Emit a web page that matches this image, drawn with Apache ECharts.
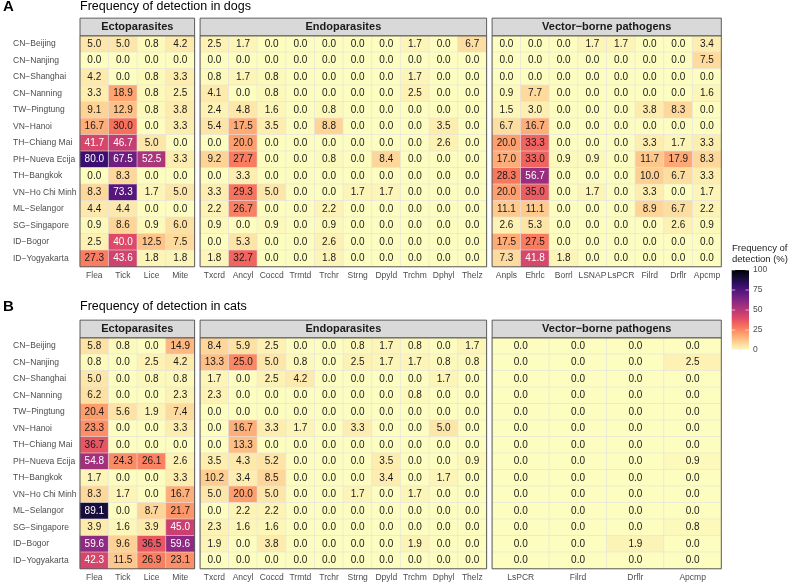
<!DOCTYPE html>
<html>
<head>
<meta charset="utf-8">
<script src="https://cdn.jsdelivr.net/npm/echarts@6/dist/echarts.min.js"></script>
<style>
html,body{margin:0;padding:0;background:#fff;}
#chart{width:792px;height:582px;}
</style>
</head>
<body>
<div id="chart"></div>
<script>
// ---------------- DATA ----------------
const regions = ['CN\u2212Beijing','CN\u2212Nanjing','CN\u2212Shanghai','CN\u2212Nanning','TW\u2212Pingtung','VN\u2212Hanoi','TH\u2212Chiang Mai','PH\u2212Nueva Ecija','TH\u2212Bangkok','VN\u2212Ho Chi Minh','ML\u2212Selangor','SG\u2212Singapore','ID\u2212Bogor','ID\u2212Yogyakarta'];
const facetNames = ['Ectoparasites','Endoparasites','Vector\u2212borne pathogens'];
const ectoCols = ['Flea','Tick','Lice','Mite'];
const endoCols = ['Txcrd','Ancyl','Coccd','Trmtd','Trchr','Strng','Dpyld','Trchm','Dphyl','Thelz'];
const vbpDogCols = ['Anpls','Ehrlc','Borrl','LSNAP','LsPCR','Filrd','Drflr','Apcmp'];
const vbpCatCols = ['LsPCR','Filrd','Drflr','Apcmp'];
const legendTicks = [0,25,50,75,100];

const dogEcto = [
 [5.0,5.0,0.8,4.2],[0.0,0.0,0.0,0.0],[4.2,0.0,0.8,3.3],[3.3,18.9,0.8,2.5],[9.1,12.9,0.8,3.8],
 [16.7,30.0,0.0,3.3],[41.7,46.7,5.0,0.0],[80.0,67.5,52.5,3.3],[0.0,8.3,0.0,0.0],[8.3,73.3,1.7,5.0],
 [4.4,4.4,0.0,0.0],[0.9,8.6,0.9,6.0],[2.5,40.0,12.5,7.5],[27.3,43.6,1.8,1.8]
];
const dogEndo = [
 [2.5,1.7,0.0,0.0,0.0,0.0,0.0,1.7,0.0,6.7],
 [0.0,0.0,0.0,0.0,0.0,0.0,0.0,0.0,0.0,0.0],
 [0.8,1.7,0.8,0.0,0.0,0.0,0.0,1.7,0.0,0.0],
 [4.1,0.0,0.8,0.0,0.0,0.0,0.0,2.5,0.0,0.0],
 [2.4,4.8,1.6,0.0,0.8,0.0,0.0,0.0,0.0,0.0],
 [5.4,17.5,3.5,0.0,8.8,0.0,0.0,0.0,3.5,0.0],
 [0.0,20.0,0.0,0.0,0.0,0.0,0.0,0.0,2.6,0.0],
 [9.2,27.7,0.0,0.0,0.8,0.0,8.4,0.0,0.0,0.0],
 [0.0,3.3,0.0,0.0,0.0,0.0,0.0,0.0,0.0,0.0],
 [3.3,29.3,5.0,0.0,0.0,1.7,1.7,0.0,0.0,0.0],
 [2.2,26.7,0.0,0.0,2.2,0.0,0.0,0.0,0.0,0.0],
 [0.9,0.0,0.9,0.0,0.9,0.0,0.0,0.0,0.0,0.0],
 [0.0,5.3,0.0,0.0,2.6,0.0,0.0,0.0,0.0,0.0],
 [1.8,32.7,0.0,0.0,1.8,0.0,0.0,0.0,0.0,0.0]
];
const dogVbp = [
 [0.0,0.0,0.0,1.7,1.7,0.0,0.0,3.4],
 [0.0,0.0,0.0,0.0,0.0,0.0,0.0,7.5],
 [0.0,0.0,0.0,0.0,0.0,0.0,0.0,0.0],
 [0.9,7.7,0.0,0.0,0.0,0.0,0.0,1.6],
 [1.5,3.0,0.0,0.0,0.0,3.8,8.3,0.0],
 [6.7,16.7,0.0,0.0,0.0,0.0,0.0,0.0],
 [20.0,33.3,0.0,0.0,0.0,3.3,1.7,3.3],
 [17.0,33.0,0.9,0.9,0.0,11.7,17.9,8.3],
 [28.3,56.7,0.0,0.0,0.0,10.0,6.7,3.3],
 [20.0,35.0,0.0,1.7,0.0,3.3,0.0,1.7],
 [11.1,11.1,0.0,0.0,0.0,8.9,6.7,2.2],
 [2.6,5.3,0.0,0.0,0.0,0.0,2.6,0.9],
 [17.5,27.5,0.0,0.0,0.0,0.0,0.0,0.0],
 [7.3,41.8,1.8,0.0,0.0,0.0,0.0,0.0]
];
const catEcto = [
 [5.8,0.8,0.0,14.9],[0.8,0.0,2.5,4.2],[5.0,0.0,0.8,0.8],[6.2,0.0,0.0,2.3],[20.4,5.6,1.9,7.4],
 [23.3,0.0,0.0,3.3],[36.7,0.0,0.0,0.0],[54.8,24.3,26.1,2.6],[1.7,0.0,0.0,3.3],[8.3,1.7,0.0,16.7],
 [89.1,0.0,8.7,21.7],[3.9,1.6,3.9,45.0],[59.6,9.6,36.5,59.6],[42.3,11.5,26.9,23.1]
];
const catEndo = [
 [8.4,5.9,2.5,0.0,0.0,0.8,1.7,0.8,0.0,1.7],
 [13.3,25.0,5.0,0.8,0.0,2.5,1.7,1.7,0.8,0.8],
 [1.7,0.0,2.5,4.2,0.0,0.0,0.0,0.0,1.7,0.0],
 [2.3,0.0,0.0,0.0,0.0,0.0,0.0,0.8,0.0,0.0],
 [0.0,0.0,0.0,0.0,0.0,0.0,0.0,0.0,0.0,0.0],
 [0.0,16.7,3.3,1.7,0.0,3.3,0.0,0.0,5.0,0.0],
 [0.0,13.3,0.0,0.0,0.0,0.0,0.0,0.0,0.0,0.0],
 [3.5,4.3,5.2,0.0,0.0,0.0,3.5,0.0,0.0,0.9],
 [10.2,3.4,8.5,0.0,0.0,0.0,3.4,0.0,1.7,0.0],
 [5.0,20.0,5.0,0.0,0.0,1.7,0.0,1.7,0.0,0.0],
 [0.0,2.2,2.2,0.0,0.0,0.0,0.0,0.0,0.0,0.0],
 [2.3,1.6,1.6,0.0,0.0,0.0,0.0,0.0,0.0,0.0],
 [1.9,0.0,3.8,0.0,0.0,0.0,0.0,1.9,0.0,0.0],
 [0.0,0.0,0.0,0.0,0.0,0.0,0.0,0.0,0.0,0.0]
];
const catVbp = [
 [0.0,0.0,0.0,0.0],[0.0,0.0,0.0,2.5],[0.0,0.0,0.0,0.0],[0.0,0.0,0.0,0.0],[0.0,0.0,0.0,0.0],
 [0.0,0.0,0.0,0.0],[0.0,0.0,0.0,0.0],[0.0,0.0,0.0,0.9],[0.0,0.0,0.0,0.0],[0.0,0.0,0.0,0.0],
 [0.0,0.0,0.0,0.0],[0.0,0.0,0.0,0.8],[0.0,0.0,1.9,0.0],[0.0,0.0,0.0,0.0]
];

// magma (reversed: 0 -> light, 100 -> dark)
const magmaRev = ['#FCFDBF','#FECF92','#FE9F6D','#F7705C','#DE4968','#B73779','#8C2981','#641A80','#3B0F70','#140E36','#000004'];

// ---------------- LAYOUT ----------------
const FONT = '"Liberation Sans", Arial, Helvetica, sans-serif';
const COLW = 28.65, GAP = 5.5, X0 = 80;
const ROWH = 16.5, PH = ROWH * regions.length;
const STRIPH = 17.6;
const facetCols = [4, 10, 8];
const panels = [
  {top: 35.75, tag: 'A', title: 'Frequency of detection in dogs', titleY: 7,
   cols: [ectoCols, endoCols, vbpDogCols], data: [dogEcto, dogEndo, dogVbp]},
  {top: 337.75, tag: 'B', title: 'Frequency of detection in cats', titleY: 307,
   cols: [ectoCols, endoCols, vbpCatCols], data: [catEcto, catEndo, catVbp]}
];

const grids = [], xAxes = [], yAxes = [], series = [], graphics = [];
let gi = 0;
panels.forEach((p) => {
  graphics.push({type:'text', left: 3, top: p.titleY - 8, z: 100,
    style:{text: p.tag, font: 'bold 15px ' + FONT, fill:'#000'}});
  graphics.push({type:'text', left: 80, top: p.titleY - 7, z: 100,
    style:{text: p.title, font: '12.5px ' + FONT, fill:'#000'}});
  let left = X0;
  for (let f = 0; f < 3; f++) {
    const w = facetCols[f] * COLW;
    grids.push({left: left, top: p.top, width: w, height: PH, containLabel: false});
    xAxes.push({type:'category', gridIndex: gi, data: p.cols[f], position:'bottom',
      axisLine:{show:false}, axisTick:{show:false}, splitLine:{show:false},
      axisLabel:{interval:0, fontSize: 8.5, color:'#4D4D4D', margin: 4, fontFamily: FONT}});
    yAxes.push({type:'category', gridIndex: gi, data: regions, inverse: true,
      axisLine:{show:false}, axisTick:{show:false}, splitLine:{show:false},
      axisLabel:{show: f === 0, interval:0, fontSize: 8.5, color:'#4D4D4D', margin: left - 13,
        align:'left', fontFamily: FONT}});
    const d = [];
    p.data[f].forEach((row, i) => row.forEach((v, j) => {
      d.push({value:[j, i, v], label:{color: v >= 38 ? '#FFFFFF' : '#1A1A1A'}});
    }));
    series.push({type:'heatmap', xAxisIndex: gi, yAxisIndex: gi, data: d,
      itemStyle:{borderColor:'#E2E2E2', borderWidth: 0.6},
      label:{show:true, fontSize: 10, fontFamily: FONT, formatter: (q) => q.value[2].toFixed(1)},
      emphasis:{disabled:true}});
    // panel border
    graphics.push({type:'rect', z: 100, silent: true,
      shape:{x: left, y: p.top, width: w, height: PH},
      style:{fill:'none', stroke:'#4D4D4D', lineWidth: 0.9}});
    // strip
    graphics.push({type:'rect', z: 100, silent: true,
      shape:{x: left, y: p.top - STRIPH, width: w, height: STRIPH},
      style:{fill:'#D9D9D9', stroke:'#4D4D4D', lineWidth: 0.9}});
    graphics.push({type:'text', z: 101, silent: true,
      x: left + w / 2, y: p.top - STRIPH / 2,
      style:{text: facetNames[f], font:'bold 11px ' + FONT, fill:'#1A1A1A',
        textAlign:'center', textVerticalAlign:'middle'}});
    left += w + GAP;
    gi++;
  }
});

// legend (colour bar)
const LBX = 731.7, LBY = 270, LBW = 17.3, LBH = 80;
graphics.push({type:'text', z:100, left: 732, top: 243,
  style:{text:'Frequency of\ndetection (%)', font:'9.5px ' + FONT, fill:'#1A1A1A', lineHeight: 11}});
graphics.push({type:'rect', z:100, silent:true, shape:{x:LBX, y:LBY, width:LBW, height:LBH},
  style:{fill:{type:'linear', x:0, y:1, x2:0, y2:0,
    colorStops: magmaRev.map((c, k) => ({offset: k / (magmaRev.length - 1), color: c}))}}});
legendTicks.forEach((t) => {
  const y = LBY + LBH - t / 100 * LBH;
  graphics.push({type:'line', z:101, silent:true, shape:{x1:LBX, y1:y, x2:LBX + 3.5, y2:y},
    style:{stroke:'rgba(255,255,255,0.8)', lineWidth:0.8}});
  graphics.push({type:'line', z:101, silent:true, shape:{x1:LBX + LBW - 3.5, y1:y, x2:LBX + LBW, y2:y},
    style:{stroke:'rgba(255,255,255,0.8)', lineWidth:0.8}});
  graphics.push({type:'text', z:101, silent:true, x: LBX + LBW + 4, y: y,
    style:{text: String(t), font:'8.5px ' + FONT, fill:'#4D4D4D', textVerticalAlign:'middle'}});
});

const chart = echarts.init(document.getElementById('chart'), null, {renderer:'canvas'});
chart.setOption({
  animation: false,
  backgroundColor: '#FFFFFF',
  grid: grids,
  xAxis: xAxes,
  yAxis: yAxes,
  visualMap: {type:'continuous', show:false, min:0, max:100, dimension: 2,
    seriesIndex: series.map((s, k) => k), inRange:{color: magmaRev}},
  series: series,
  graphic: graphics
});
</script>
</body>
</html>
